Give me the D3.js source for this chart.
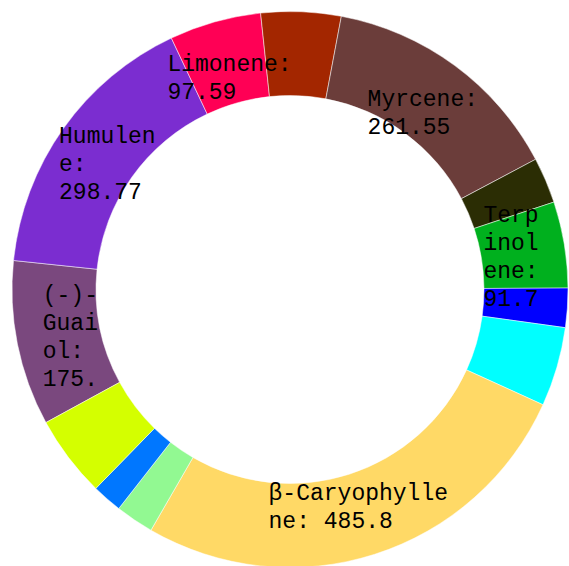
<!DOCTYPE html>
<meta charset="utf-8">
<script src="https://cdnjs.cloudflare.com/ajax/libs/d3/7.8.5/d3.min.js"></script>
<style>
  body { margin: 0; background: #fff; }
</style>
<body>
<div id="chart"></div>
<script>
  // terpene profile, clockwise from the (-)-Guaiol slice
  var names = ["(-)-Guaiol", "Humulene", "Limonene", "Linalool", "Myrcene", "Ocimene", "Terpinolene",
    "trans-Nerolidol", "α-Pinene", "β-Caryophyllene", "β-Ocimene", "β-Pinene", "δ-3-Carene"]
  var values = [175.93, 298.77, 97.59, 85, 261.55, 48.8, 91.7, 41.7, 84.4, 485.8, 40.7, 32, 86.9]
  var colors = ["#7a487e", "#7b2dd0", "#ff0055", "#a32600", "#6b3d3a", "#2b2d04", "#00b01e",
    "#0000ff", "#00ffff", "#ffd966", "#92f992", "#0077ff", "#d4ff00"]

  var LABEL_MIN = 90   // smaller slices get no label
  var MAX_LINES = 4

  var WIDTH = 569
  var HEIGHT = 566
  var cx = 290, cy = 289.5
  var outerR = 278, innerR = 194
  var labelR = 224
  var startDeg = 241.4
  var fontSize = 23, lineH = 28

  var data = names.map(function(n, i) { return { name: n, value: values[i], color: colors[i] } })

  var svg = d3.select("#chart").append("svg")
    .attr("width", WIDTH)
    .attr("height", HEIGHT)

  var g = svg.append("g")
    .attr("transform", "translate(" + cx + "," + cy + ")")

  var start = startDeg * Math.PI / 180
  var pie = d3.pie()
    .sort(null)
    .value(function(d) { return d.value })
    .startAngle(start)
    .endAngle(start + 2 * Math.PI)

  var arc = d3.arc().innerRadius(innerR).outerRadius(outerR)
  var labelArc = d3.arc().innerRadius(labelR).outerRadius(labelR)

  var arcs = pie(data)

  g.selectAll("path.slice")
    .data(arcs)
    .enter().append("path")
    .attr("class", "slice")
    .attr("d", arc)
    .attr("fill", function(d) { return d.data.color })
    .attr("stroke", "#fff")
    .attr("stroke-width", 0.5)

  // hidden text used to measure strings
  var meter = svg.append("text")
    .style("font-family", "'Liberation Mono', 'Courier New', monospace")
    .style("font-size", fontSize + "px")
    .attr("visibility", "hidden")
  function measure(s) {
    meter.text(s)
    return meter.node().getComputedTextLength()
  }

  function wrapLines(str, maxW) {
    var words = str.split(" "), lines = [], line = ""
    words.forEach(function(w) {
      var test = line ? line + " " + w : w
      if (measure(test) <= maxW) { line = test; return }
      if (line) { lines.push(line); line = "" }
      while (measure(w) > maxW && w.length > 1) {
        var n = w.length
        while (n > 1 && measure(w.slice(0, n)) > maxW) n--
        lines.push(w.slice(0, n))
        w = w.slice(n)
      }
      line = w
    })
    if (line) lines.push(line)
    return lines
  }

  var labels = g.selectAll("text.label")
    .data(arcs.filter(function(d) { return d.data.value > LABEL_MIN }))
    .enter().append("text")
    .attr("class", "label")
    .style("font-family", "'Liberation Mono', 'Courier New', monospace")
    .style("font-size", fontSize + "px")
    .attr("fill", "#000")

  labels.each(function(d) {
    var mid = (d.startAngle + d.endAngle) / 2
    var c = Math.cos(mid), s = Math.sin(mid)
    // wider boxes at top/bottom of the ring, narrow on the sides
    var boxW = 200 * c * c + 60 * s * s
    var p = labelArc.centroid(d)
    var lines = wrapLines(d.data.name + ": " + d.data.value, boxW).slice(0, MAX_LINES)
    var maxW = d3.max(lines, measure)
    var x0 = p[0] - maxW / 2
    var n = lines.length
    var t = d3.select(this)
    lines.forEach(function(l, i) {
      t.append("tspan")
        .attr("x", x0)
        .attr("y", p[1] + (i - (n - 1) / 2) * lineH + 11)
        .text(l)
    })
  })

  meter.remove()
</script>
</body>
